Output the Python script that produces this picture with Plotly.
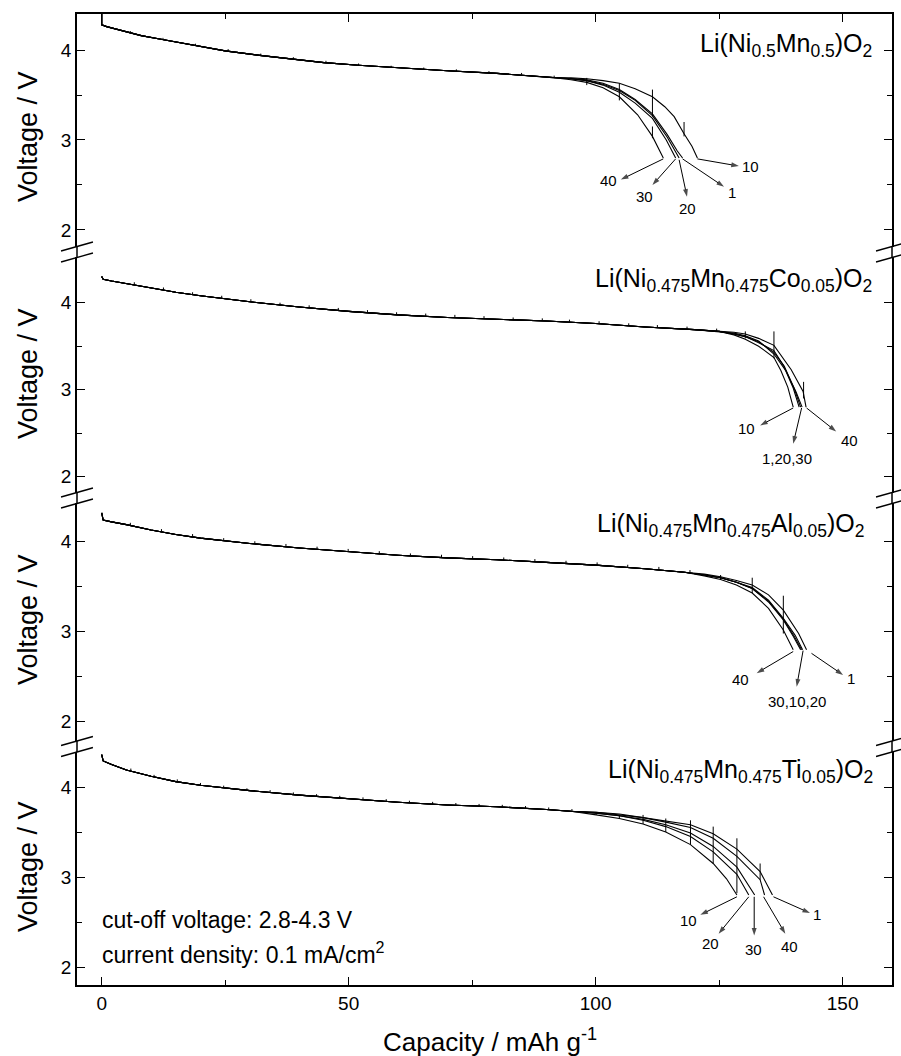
import plotly.graph_objects as go

FONT = "Liberation Sans, Arial, sans-serif"

# ---------------- data ----------------
x_range = [-5, 160]
x_major = [0, 50, 100, 150]
x_minor = [25, 75, 125]
y_major = [2, 3, 4]
y_minor = [2.5, 3.5]
cycles = [1, 10, 20, 30, 40]

panel_titles = [
    "Li(Ni<sub>0.5</sub>Mn<sub>0.5</sub>)O<sub>2</sub>",
    "Li(Ni<sub>0.475</sub>Mn<sub>0.475</sub>Co<sub>0.05</sub>)O<sub>2</sub>",
    "Li(Ni<sub>0.475</sub>Mn<sub>0.475</sub>Al<sub>0.05</sub>)O<sub>2</sub>",
    "Li(Ni<sub>0.475</sub>Mn<sub>0.475</sub>Ti<sub>0.05</sub>)O<sub>2</sub>",
]
y_ranges = [[1.811, 4.40], [1.813, 4.525], [1.786, 4.430], [1.80, 4.389]]

# ---- Panel 1: Li(Ni0.5Mn0.5)O2 ----
p1_common_cap = [0, 0, 1, 3, 5, 8, 12, 18, 25, 32, 39, 45, 52, 60, 70, 80, 88, 92]
p1_common_v = [4.45, 4.28, 4.26, 4.23, 4.20, 4.16, 4.12, 4.06, 3.99, 3.94, 3.90, 3.86, 3.83, 3.80, 3.77, 3.74, 3.71, 3.69]
p1_tail_cap = {
    1: [95, 98.2, 101.5, 104.8, 108, 111.5, 114.5, 116.5, 117.6],
    10: [95, 98.2, 101.5, 104.8, 108, 111.5, 114, 115.9, 117.9, 119.5, 120.6],
    20: [95, 98.2, 101.5, 104.8, 108, 111.5, 114.5, 116.9],
    30: [95, 98.2, 101.5, 104.8, 108, 111.5, 114.3, 116.2],
    40: [95, 98.2, 101.5, 104.8, 108.5, 111.5, 113.7],
}
p1_tail_v = {
    1: [3.68, 3.67, 3.63, 3.56, 3.45, 3.29, 3.06, 2.88, 2.80],
    10: [3.69, 3.68, 3.66, 3.63, 3.57, 3.48, 3.37, 3.26, 3.07, 2.93, 2.80],
    20: [3.68, 3.66, 3.62, 3.55, 3.44, 3.27, 3.03, 2.80],
    30: [3.68, 3.66, 3.61, 3.53, 3.41, 3.24, 3.00, 2.80],
    40: [3.67, 3.64, 3.58, 3.48, 3.28, 3.04, 2.80],
}
p1_spike_cap = [5.8, 12.4, 19.0, 25.6, 32.2, 38.8, 45.4, 52.0, 58.6, 65.2, 71.8, 78.4, 85.0, 91.6,
                98.2, 104.8, 111.5, 111.5, 117.9]
p1_spike_lo = [4.19, 4.115, 4.05, 3.99, 3.94, 3.90, 3.86, 3.83, 3.805, 3.785, 3.765, 3.745, 3.725, 3.695,
               3.61, 3.44, 3.26, 3.02, 3.04]
p1_spike_hi = [4.21, 4.135, 4.07, 4.01, 3.96, 3.92, 3.88, 3.85, 3.825, 3.805, 3.785, 3.765, 3.745, 3.715,
               3.69, 3.63, 3.56, 3.15, 3.20]
p1_labels = ["40", "30", "20", "1", "10"]
p1_tail_xy = [(113.7, 2.79), (116.2, 2.79), (116.9, 2.78), (117.6, 2.79), (120.6, 2.79)]
p1_head_xy = [(105.1, 2.56), (111.5, 2.50), (118.5, 2.37), (126.0, 2.48), (129.0, 2.71)]
p1_label_xy = [(102.6, 2.55), (109.8, 2.37), (118.5, 2.24), (127.7, 2.42), (131.3, 2.70)]

# ---- Panel 2: Co ----
p2_common_cap = [0, 0.3, 2, 5, 10, 15, 20, 30, 40, 50, 60, 70, 80, 90, 100, 110, 120, 125]
p2_common_v = [4.30, 4.27, 4.25, 4.22, 4.17, 4.12, 4.08, 4.01, 3.95, 3.90, 3.86, 3.83, 3.81, 3.79, 3.76, 3.72, 3.69, 3.67]
p2_tail_cap = {
    1: [128, 130.3, 133, 136.1, 138, 140, 141.2],
    10: [128, 130.3, 133, 136.1, 137.5, 138.9, 140.0],
    20: [128, 130.3, 133, 136.1, 138.2, 140.3, 141.5],
    30: [128, 130.3, 133, 136.1, 138.5, 140.6, 141.8],
    40: [128, 130.3, 133, 136.1, 139.6, 142.0, 142.6],
}
p2_tail_v = {
    1: [3.64, 3.61, 3.54, 3.45, 3.28, 3.02, 2.80],
    10: [3.63, 3.58, 3.50, 3.37, 3.22, 3.03, 2.80],
    20: [3.64, 3.61, 3.55, 3.43, 3.27, 3.00, 2.80],
    30: [3.65, 3.62, 3.56, 3.41, 3.22, 2.97, 2.80],
    40: [3.66, 3.64, 3.59, 3.51, 3.23, 2.98, 2.80],
}
p2_spike_cap = [6.6, 12.5, 18.4, 24.3, 30.2, 36.1, 42.0, 47.9, 53.8, 59.7, 65.6, 71.5, 77.4, 83.3, 89.2,
                94.7, 100.7, 106.7, 112.5, 118.5, 124.5, 130.3, 136.1, 142.1]
p2_spike_lo = [4.205, 4.145, 4.09, 4.05, 4.01, 3.97, 3.94, 3.91, 3.885, 3.86, 3.845, 3.83, 3.815, 3.80, 3.79,
               3.775, 3.757, 3.733, 3.713, 3.695, 3.672, 3.59, 3.36, 2.90]
p2_spike_hi = [4.235, 4.175, 4.12, 4.08, 4.04, 4.00, 3.97, 3.94, 3.915, 3.89, 3.875, 3.86, 3.845, 3.83, 3.82,
               3.805, 3.787, 3.763, 3.743, 3.725, 3.702, 3.67, 3.67, 3.09]
p2_labels = ["10", "1,20,30", "40"]
p2_tail_xy = [(140.0, 2.79), (141.7, 2.79), (142.7, 2.79)]
p2_head_xy = [(133.3, 2.59), (140.0, 2.38), (148.7, 2.52)]
p2_label_xy = [(130.6, 2.55), (138.7, 2.21), (151.3, 2.42)]

# ---- Panel 3: Al ----
p3_common_cap = [0, 0.3, 2, 5, 10, 15, 20, 30, 40, 50, 60, 70, 80, 90, 100, 110, 118]
p3_common_v = [4.32, 4.24, 4.22, 4.19, 4.13, 4.08, 4.04, 3.98, 3.93, 3.89, 3.85, 3.82, 3.80, 3.77, 3.74, 3.70, 3.66]
p3_tail_cap = {
    1: [122, 125.3, 128.5, 131.7, 135, 138, 141.1, 142.7],
    10: [122, 125.3, 128.5, 131.7, 135, 138, 140.2, 141.7],
    20: [122, 125.3, 128.5, 131.7, 135, 138, 140.4, 141.9],
    30: [122, 125.3, 128.5, 131.7, 135, 138, 140.0, 141.5],
    40: [122, 125.3, 128.5, 131.7, 135, 138, 140.0],
}
p3_tail_v = {
    1: [3.64, 3.61, 3.57, 3.52, 3.41, 3.24, 2.98, 2.80],
    10: [3.63, 3.60, 3.55, 3.48, 3.34, 3.14, 2.95, 2.80],
    20: [3.63, 3.60, 3.55, 3.49, 3.35, 3.15, 2.96, 2.80],
    30: [3.63, 3.60, 3.55, 3.48, 3.33, 3.13, 2.95, 2.80],
    40: [3.62, 3.58, 3.52, 3.43, 3.26, 3.02, 2.80],
}
p3_spike_cap = [5.8, 12.1, 18.4, 24.7, 31.0, 37.3, 43.6, 49.9, 56.2, 62.5, 68.8, 75.1, 81.4, 87.7, 94.0,
                100.3, 106.5, 112.8, 119.1, 125.3, 131.7, 138.0]
p3_spike_lo = [4.18, 4.11, 4.055, 4.01, 3.975, 3.945, 3.915, 3.89, 3.865, 3.84, 3.825, 3.81, 3.795, 3.777, 3.758,
               3.74, 3.714, 3.69, 3.655, 3.58, 3.43, 2.98]
p3_spike_hi = [4.21, 4.14, 4.085, 4.04, 4.005, 3.975, 3.945, 3.92, 3.895, 3.87, 3.855, 3.84, 3.825, 3.807, 3.788,
               3.77, 3.744, 3.72, 3.685, 3.63, 3.60, 3.40]
p3_labels = ["40", "30,10,20", "1"]
p3_tail_xy = [(140.0, 2.78), (142.0, 2.79), (143.7, 2.76)]
p3_head_xy = [(132.6, 2.54), (140.7, 2.39), (150.1, 2.52)]
p3_label_xy = [(129.4, 2.47), (140.7, 2.22), (151.6, 2.48)]

# ---- Panel 4: Ti ----
p4_common_cap = [0, 0.3, 2, 5, 10, 15, 20, 30, 40, 50, 60, 70, 80, 90, 95]
p4_common_v = [4.36, 4.29, 4.25, 4.19, 4.12, 4.06, 4.02, 3.96, 3.91, 3.87, 3.83, 3.80, 3.78, 3.75, 3.73]
p4_tail_cap = {
    1: [100.1, 104.8, 109.6, 114.2, 119.2, 123.8, 128.6, 133.3, 135.8],
    10: [100.1, 104.8, 109.6, 114.2, 119.2, 123.8, 126.5, 128.6],
    20: [100.1, 104.8, 109.6, 114.2, 119.2, 123.8, 128.6, 131.0],
    30: [100.1, 104.8, 109.6, 114.2, 119.2, 123.8, 128.6, 132.2],
    40: [100.1, 104.8, 109.6, 114.2, 119.2, 123.8, 128.6, 133.3, 134.2],
}
p4_tail_v = {
    1: [3.72, 3.70, 3.66, 3.62, 3.58, 3.48, 3.31, 3.06, 2.80],
    10: [3.69, 3.65, 3.59, 3.50, 3.36, 3.15, 2.98, 2.80],
    20: [3.71, 3.68, 3.63, 3.56, 3.45, 3.28, 3.03, 2.80],
    30: [3.71, 3.68, 3.64, 3.58, 3.49, 3.34, 3.11, 2.80],
    40: [3.72, 3.69, 3.66, 3.61, 3.55, 3.43, 3.23, 2.97, 2.80],
}
p4_spike_cap = [5.9, 10.6, 15.3, 20.0, 24.7, 29.4, 34.1, 38.8, 43.5, 48.2, 52.9, 57.6, 62.3, 67.0, 71.7,
                76.4, 81.1, 85.8, 90.5, 95.2, 100.1, 104.8, 109.6, 114.2, 119.2, 123.8, 128.6, 133.3]
p4_spike_lo = [4.18, 4.11, 4.06, 4.02, 3.99, 3.96, 3.94, 3.915, 3.895, 3.877, 3.86, 3.84, 3.823, 3.81, 3.797,
               3.787, 3.777, 3.763, 3.748, 3.73, 3.69, 3.65, 3.59, 3.50, 3.36, 3.15, 2.82, 2.97]
p4_spike_hi = [4.205, 4.135, 4.085, 4.045, 4.015, 3.985, 3.965, 3.94, 3.92, 3.902, 3.885, 3.865, 3.848, 3.835, 3.822,
               3.812, 3.802, 3.788, 3.773, 3.755, 3.72, 3.69, 3.69, 3.65, 3.63, 3.56, 3.43, 3.15]
p4_labels = ["10", "20", "30", "40", "1"]
p4_tail_xy = [(128.6, 2.78), (131.0, 2.78), (132.1, 2.78), (134.0, 2.78), (136.0, 2.78)]
p4_head_xy = [(121.2, 2.58), (124.9, 2.37), (132.1, 2.35), (138.4, 2.37), (143.4, 2.60)]
p4_label_xy = [(118.7, 2.52), (123.2, 2.26), (132.0, 2.19), (139.2, 2.23), (144.9, 2.58)]

note_lines = ["cut-off voltage: 2.8-4.3 V", "current density: 0.1 mA/cm<sup>2</sup>"]
x_title = "Capacity / mAh g<sup>-1</sup>"
y_title = "Voltage / V"

panels = [
    (p1_common_cap, p1_common_v, p1_tail_cap, p1_tail_v, p1_spike_cap, p1_spike_lo, p1_spike_hi,
     p1_labels, p1_tail_xy, p1_head_xy, p1_label_xy),
    (p2_common_cap, p2_common_v, p2_tail_cap, p2_tail_v, p2_spike_cap, p2_spike_lo, p2_spike_hi,
     p2_labels, p2_tail_xy, p2_head_xy, p2_label_xy),
    (p3_common_cap, p3_common_v, p3_tail_cap, p3_tail_v, p3_spike_cap, p3_spike_lo, p3_spike_hi,
     p3_labels, p3_tail_xy, p3_head_xy, p3_label_xy),
    (p4_common_cap, p4_common_v, p4_tail_cap, p4_tail_v, p4_spike_cap, p4_spike_lo, p4_spike_hi,
     p4_labels, p4_tail_xy, p4_head_xy, p4_label_xy),
]

# ---------------- layout geometry (pixels) ----------------
W, H = 901, 1056
ML, MR, MT, MB = 77, 7, 14, 71
PW, PH = W - ML - MR, H - MT - MB
panel_px = [(14, 247), (257, 493), (503, 741), (752, 985)]  # top, bottom pixel rows
title_px = [(876, 45), (876, 280), (869, 525), (877, 771)]
ytitle_py = [137, 374, 620, 867]


def px_x(p):
    return (p - ML) / PW


def px_y(p):
    return (MT + PH - p) / PH


fig = go.Figure()
yaxis_names = ["y", "y2", "y3", "y4"]

for k, pan in enumerate(panels, start=1):
    ccap, cv, tcap, tv, scap, slo, shi, labs, tails, heads, lpos = pan
    yn = yaxis_names[k - 1]
    for c in cycles:
        fig.add_trace(go.Scatter(x=ccap + tcap[c], y=cv + tv[c], mode="lines", xaxis="x", yaxis=yn,
                                 line=dict(color="black", width=1.1), showlegend=False,
                                 hoverinfo="skip"))
    sx, sy = [], []
    for c, lo, hi in zip(scap, slo, shi):
        sx += [c, c, None]
        sy += [lo, hi, None]
    fig.add_trace(go.Scatter(x=sx, y=sy, mode="lines", xaxis="x", yaxis=yn,
                             line=dict(color="black", width=1.0),
                             showlegend=False, hoverinfo="skip"))

    for lab, (tx, ty), (hx, hy), (lx, ly) in zip(labs, tails, heads, lpos):
        # arrow: line from curve end towards the label, filled head at the label end
        fig.add_trace(go.Scatter(x=[tx, hx], y=[ty, hy], mode="lines+markers", xaxis="x", yaxis=yn,
                                 line=dict(color="black", width=1.0),
                                 marker=dict(symbol="arrow", size=[0, 8], angleref="previous",
                                             color="black", line=dict(width=0)),
                                 showlegend=False, hoverinfo="skip"))
        fig.add_annotation(x=lx, y=ly, xref="x", yref=yn, text=lab, showarrow=False,
                           font=dict(family=FONT, size=15, color="black"),
                           xanchor="center", yanchor="middle")

    top, bot = panel_px[k - 1]
    yax = dict(range=y_ranges[k - 1], domain=[px_y(bot), px_y(top)], anchor="x",
               showline=True, linecolor="black", linewidth=1.5, mirror="ticks",
               ticks="inside", ticklen=8, tickwidth=1.2, tickcolor="black",
               tickmode="array", tickvals=y_major, ticktext=[str(v) for v in y_major],
               showgrid=False, zeroline=False,
               tickfont=dict(family=FONT, size=19, color="black"),
               minor=dict(tickmode="array", tickvals=y_minor, ticks="inside", ticklen=5,
                          tickwidth=1.2, tickcolor="black", showgrid=False))
    fig.update_layout(**{("yaxis" if k == 1 else f"yaxis{k}"): yax})

    # formula title
    fig.add_annotation(x=px_x(title_px[k - 1][0]), y=px_y(title_px[k - 1][1]), xref="paper",
                       yref="paper", text=panel_titles[k - 1], showarrow=False,
                       xanchor="right", yanchor="middle",
                       font=dict(family=FONT, size=25, color="black"))
    # y title
    fig.add_annotation(x=px_x(28), y=px_y(ytitle_py[k - 1]), xref="paper", yref="paper",
                       text=y_title, textangle=-90, showarrow=False, xanchor="center",
                       yanchor="middle", font=dict(family=FONT, size=27, color="black"))

common_x = dict(range=x_range, showgrid=False, zeroline=False, linecolor="black", linewidth=1.5,
                showline=True, mirror=False,
                ticks="inside", ticklen=8, tickwidth=1.2, tickcolor="black",
                tickmode="array", tickvals=x_major, ticktext=[str(v) for v in x_major],
                minor=dict(tickmode="array", tickvals=x_minor, ticks="inside", ticklen=5,
                           tickwidth=1.2, tickcolor="black", showgrid=False),
                tickfont=dict(family=FONT, size=19, color="black"))
fig.update_layout(
    xaxis=dict(anchor="y4", side="bottom", showticklabels=True, domain=[0, 1], **common_x),
    xaxis2=dict(anchor="y", side="top", overlaying="x", matches="x", showticklabels=False, **common_x),
)
# invisible helper trace so the top axis is drawn
fig.add_trace(go.Scatter(x=[x_range[0]], y=[y_ranges[0][1] + 1], xaxis="x2", yaxis="y",
                         mode="markers", marker=dict(opacity=0), showlegend=False, hoverinfo="skip"))

# axis breaks
shapes = []
for k in range(3):
    gtop = panel_px[k][1]
    gbot = panel_px[k + 1][0]
    c = (gtop + gbot) / 2
    for ax_px in (ML, W - MR):
        shapes.append(dict(type="line", xref="paper", yref="paper", x0=px_x(ax_px), x1=px_x(ax_px),
                           y0=px_y(gtop), y1=px_y(gbot), line=dict(color="black", width=1.5)))
        for off in (-5.5, 5.5):
            shapes.append(dict(type="line", xref="paper", yref="paper",
                               x0=px_x(ax_px - 16), y0=px_y(c + off + 4.5),
                               x1=px_x(ax_px + 16), y1=px_y(c + off - 4.5),
                               line=dict(color="black", width=1.3)))

# notes and x title
fig.add_annotation(x=px_x(100), y=px_y(920), xref="paper", yref="paper", text=note_lines[0],
                   showarrow=False, xanchor="left", yanchor="middle",
                   font=dict(family=FONT, size=23, color="black"))
fig.add_annotation(x=px_x(100), y=px_y(953), xref="paper", yref="paper", text=note_lines[1],
                   showarrow=False, xanchor="left", yanchor="middle",
                   font=dict(family=FONT, size=23, color="black"))
fig.add_annotation(x=px_x(491), y=px_y(1040), xref="paper", yref="paper", text=x_title,
                   showarrow=False, xanchor="center", yanchor="middle",
                   font=dict(family=FONT, size=26, color="black"))

fig.update_layout(width=W, height=H, margin=dict(l=ML, r=MR, t=MT, b=MB),
                  paper_bgcolor="white", plot_bgcolor="white", shapes=shapes,
                  showlegend=False)

fig.write_html("out.html")
